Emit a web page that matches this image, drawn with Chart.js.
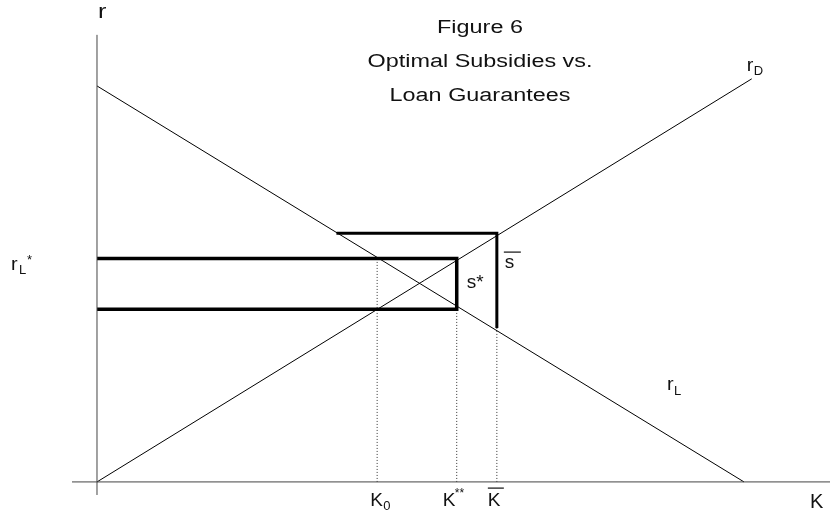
<!DOCTYPE html>
<html>
<head>
<meta charset="utf-8">
<script src="https://cdn.jsdelivr.net/npm/chart.js@4/dist/chart.umd.min.js"></script>
<style>
  body { margin: 0; background: #fff; }
  #wrap { width: 830px; height: 514px; }
</style>
</head>
<body>
<div id="wrap"><canvas id="fig6" width="830" height="514"></canvas></div>
<script>
// values (K on the x axis, r on the y axis)
const rLineK = [0, 100];          // r_L schedule
const rLineR = [10, 0];
const rDepK = [0, 101.2];         // r_D schedule
const rDepR = [0, 10.18];
const subsidyK = [0, 55.6, 55.6, 0];        // optimal subsidy box (s*)
const subsidyR = [5.64, 5.64, 4.36, 4.36];
const guaranteeK = [37.0, 61.8, 61.8];      // loan guarantee bracket (s bar)
const guaranteeR = [6.28, 6.28, 3.89];
const guideK = [43.3, 55.6, 61.8];          // K0, K**, K bar
const guideTop = [5.64, 4.36, 3.89];
const titleLines = ['Figure 6', 'Optimal Subsidies vs.', 'Loan Guarantees'];

//Turn two lists into x/y points
function pts(ks, rs) {
    return ks.map((k, i) => ({ x: k, y: rs[i] }));
}

function lineSet(data, width, extra) {
    return Object.assign({
        data: data,
        showLine: true,
        borderColor: '#000',
        borderWidth: width,
        pointRadius: 0,
        fill: false,
        tension: 0,
        borderJoinStyle: 'miter',
        borderCapStyle: 'butt'
    }, extra || {});
}

var datasets = [
    lineSet([{ x: 0, y: -0.33 }, { x: 0, y: 11.29 }], 1, { borderColor: '#444' }),
    lineSet([{ x: -3.86, y: 0 }, { x: 113.3, y: 0 }], 1, { borderColor: '#444' }),
    lineSet(pts(rLineK, rLineR), 1),
    lineSet(pts(rDepK, rDepR), 1),
    lineSet(pts(subsidyK, subsidyR), 3.5),
    lineSet(pts(guaranteeK, guaranteeR), 3)
];
//dotted guides from the axis up to the boxes
for (let i = 0; i < guideK.length; i++) {
    datasets.push(lineSet([{ x: guideK[i], y: 0 }, { x: guideK[i], y: guideTop[i] }], 1,
        { borderDash: [1, 2], borderColor: '#333' }));
}

function txt(ctx, s, x, y, size, stretch) {
    ctx.save();
    ctx.font = size + 'px "Liberation Sans", Arial, sans-serif';
    ctx.translate(x, y);
    ctx.scale(stretch || 1, 1);
    ctx.fillText(s, 0, 0);
    ctx.restore();
}

const labelPlugin = {
    id: 'labels',
    afterDatasetsDraw(chart) {
        const ctx = chart.ctx;
        const xs = chart.scales.x, ys = chart.scales.y;
        const px = v => xs.getPixelForValue(v);
        const py = v => ys.getPixelForValue(v);
        ctx.save();
        ctx.fillStyle = '#111';
        ctx.textBaseline = 'alphabetic';
        ctx.textAlign = 'left';

        // title, centred
        const tSize = 18, tStretch = 1.3;
        titleLines.forEach((t, i) => {
            ctx.font = tSize + 'px "Liberation Sans", Arial, sans-serif';
            const w = ctx.measureText(t).width * tStretch;
            txt(ctx, t, 480 - w / 2, 33 + i * 34, tSize, tStretch);
        });

        // axis names
        txt(ctx, 'r', px(0) + 1, 18, 21, 1.2);
        txt(ctx, 'K', 810, 508, 20);

        // r_D
        txt(ctx, 'r', px(rDepK[1]) - 5, py(rDepR[1]) - 8, 18, 1.1);
        txt(ctx, 'D', px(rDepK[1]) + 2, py(rDepR[1]) - 4, 13);
        // r_L
        txt(ctx, 'r', 667, 390, 18, 1.1);
        txt(ctx, 'L', 674, 395, 13);
        // r_L* on the left
        const ry = py(subsidyR[0]);
        txt(ctx, 'r', 11, ry + 11, 18, 1.1);
        txt(ctx, 'L', 19, ry + 15, 13);
        txt(ctx, '*', 27, ry + 5, 13);

        // s* and s bar
        txt(ctx, 's*', px(subsidyK[1]) + 10, 288, 19);
        const sx = px(guaranteeK[1]) + 8;
        txt(ctx, 's', sx, 268, 19);
        ctx.fillRect(sx - 1, 251.5, 17, 1.2);

        // K0, K**, K bar
        const kb = 506;
        txt(ctx, 'K', px(guideK[0]) - 7, kb, 19);
        txt(ctx, '0', px(guideK[0]) + 6, kb + 4, 13);
        txt(ctx, 'K', px(guideK[1]) - 14, kb, 19);
        txt(ctx, '**', px(guideK[1]) - 2, kb - 9, 12);
        txt(ctx, 'K', px(guideK[2]) - 9, kb, 19);
        ctx.fillRect(px(guideK[2]) - 9, 487.5, 16, 1.2);
        ctx.restore();
    }
};

const fig = new Chart(document.getElementById('fig6').getContext('2d'), {
    type: 'scatter',
    data: { datasets: datasets },
    options: {
        responsive: false,
        animation: false,
        events: [],
        layout: { padding: 0 },
        plugins: { legend: { display: false }, tooltip: { enabled: false } },
        scales: {
            x: { type: 'linear', display: false, min: -14.99, max: 113.29 },
            y: { type: 'linear', display: false, min: -0.81, max: 12.17 }
        }
    },
    plugins: [labelPlugin]
});
</script>
</body>
</html>
